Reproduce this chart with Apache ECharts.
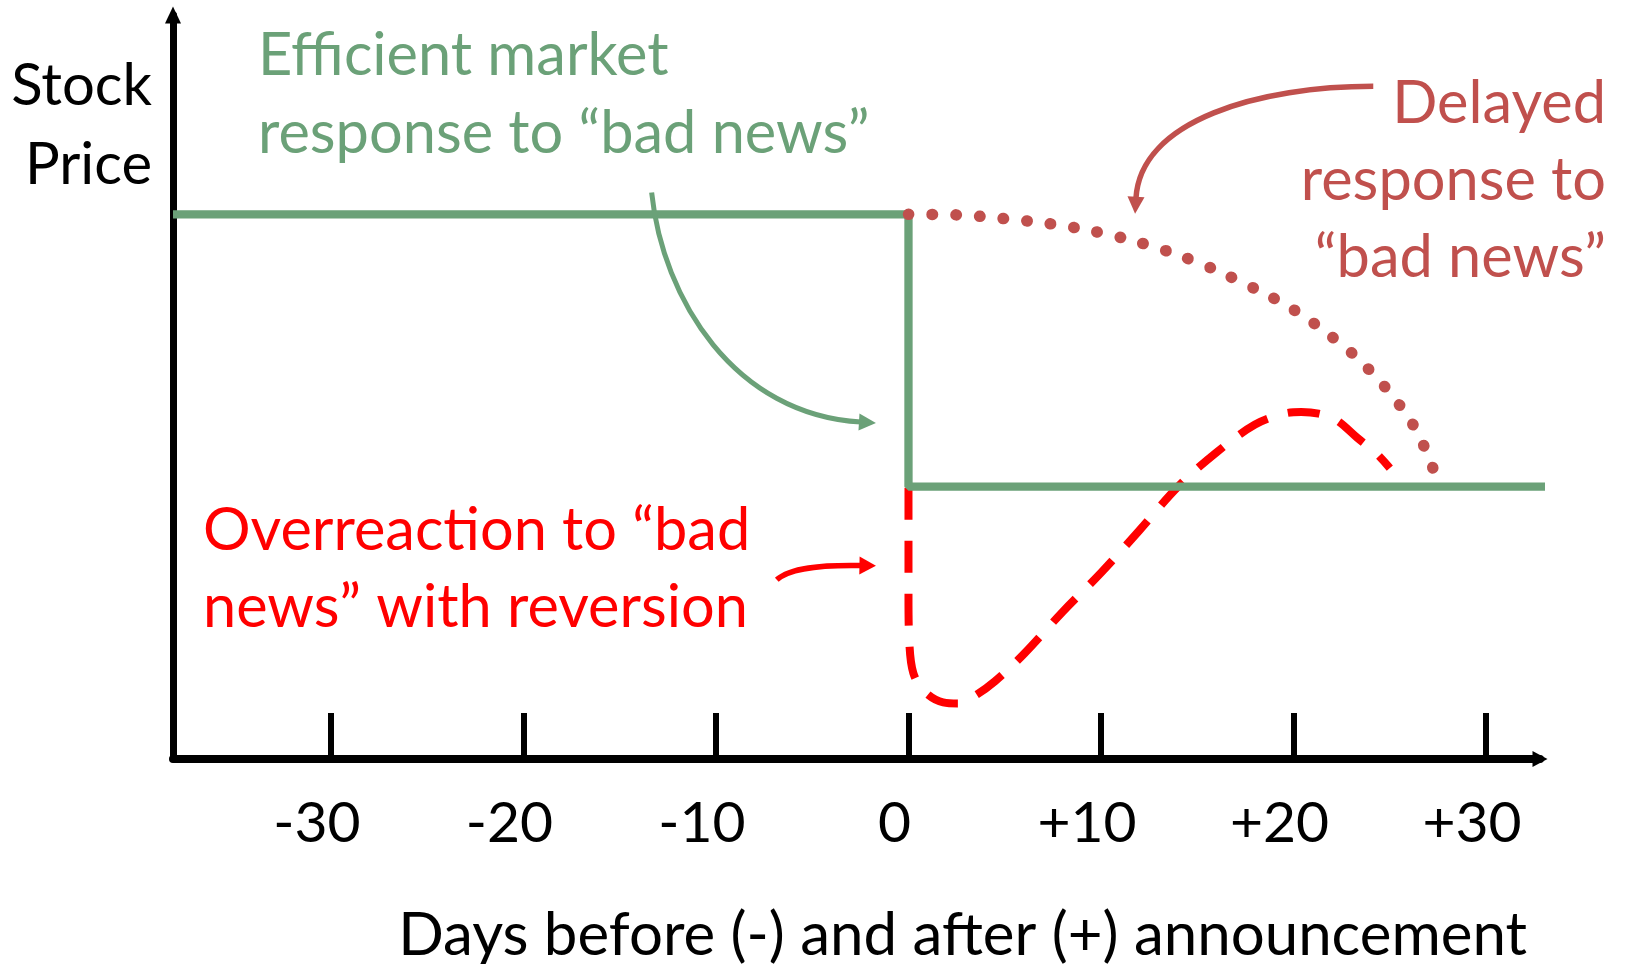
<!DOCTYPE html>
<html>
<head>
<meta charset="utf-8">
<title>Stock price response to bad news</title>
<script src="https://cdn.jsdelivr.net/npm/echarts@6/dist/echarts.min.js"></script>
<style>
html, body { margin: 0; padding: 0; background: #fff; }
#chart { width: 1625px; height: 964px; }
</style>
</head>
<body>
<div id="chart"></div>
<script>
// x = days relative to the announcement, y = price (level before news = 100)
var tickDays = [-30, -20, -10, 0, 10, 20, 30];

var efficientDays  = [-38.2, 0, 0, 33.2];
var efficientPrice = [100, 100, 50, 50];

var delayedDays  = [0, 2.5, 5, 7.5, 10, 12.5, 15, 17.5, 20, 22.5, 24, 25.5, 26.5, 27.4];
var delayedPrice = [100, 99.9, 99.2, 98.2, 96.6, 94.3, 91.2, 87.2, 82.5, 76.1, 71.2, 65.0, 59.5, 51.9];

var overDays  = [0, 0, 0, 0.05, 0.25, 0.8, 1.8, 2.6, 3.4, 4.5, 6, 8, 10, 12, 14, 16, 18, 19.5, 20.4, 21.3, 22.2, 23.3, 24.3, 25];
var overPrice = [49.8, 40, 30, 21, 15.8, 12.5, 10.4, 10.2, 11.5, 14.3, 19.3, 27, 34.2, 42, 50, 56.3, 61.4, 63.4, 63.7, 63.4, 62.3, 59.0, 56.1, 53.4];

// annotation arrows: start, control 1, control 2, tip  (in [day, price])
var arrowEfficient = [[-13.34, 104.0], [-12.76, 84.3], [-9.02, 63.2], [-1.69, 61.7]];
var arrowDelayed   = [[24.14, 123.5], [18.27, 123.5], [12.03, 117.4], [11.77, 100.1]];
var arrowOver      = [[-6.84, 32.9], [-6.16, 35.1], [-4.6, 35.65], [-1.69, 35.46]];

var GREEN = '#6ba178', DARKRED = '#c0504d', RED = '#ff0000';
var FONT = 'Lato, "Open Sans", sans-serif';
var FS = 59.5;

function pairs(xs, ys) {
  return xs.map(function (x, i) { return [x, ys[i]]; });
}

var chart = echarts.init(document.getElementById('chart'));

var option = {
  animation: false,
  backgroundColor: '#fff',
  grid: { left: 173, right: 85, top: 15, bottom: 205, containLabel: false },
  xAxis: {
    type: 'value',
    min: -38.2,
    max: 32.8,
    axisLine: {
      onZero: false,
      symbol: ['none', 'triangle'],
      symbolSize: [16, 15],
      lineStyle: { color: '#000', width: 8 }
    },
    axisTick: {
      customValues: tickDays,
      inside: true,
      length: 46,
      lineStyle: { color: '#000', width: 6 }
    },
    axisLabel: {
      customValues: tickDays,
      margin: 36,
      padding: [0, 28, 0, 0],
      color: '#000',
      fontFamily: FONT,
      fontSize: 57,
      formatter: function (v) { return v > 0 ? '+' + v : String(v); }
    },
    splitLine: { show: false }
  },
  yAxis: {
    type: 'value',
    min: 0,
    max: 136.6,
    axisLine: {
      show: true,
      onZero: false,
      symbol: ['none', 'triangle'],
      symbolSize: [16, 17],
      lineStyle: { color: '#000', width: 7 }
    },
    axisTick: { show: false },
    axisLabel: { show: false },
    splitLine: { show: false }
  },
  series: [
    {
      name: 'Overreaction with reversion',
      type: 'line',
      data: pairs(overDays, overPrice),
      showSymbol: false,
      smooth: 0.35,
      clip: false,
      lineStyle: { color: RED, width: 8, type: [32, 21] }
    },
    {
      name: 'Efficient market response',
      type: 'line',
      data: pairs(efficientDays, efficientPrice),
      showSymbol: false,
      clip: false,
      lineStyle: { color: GREEN, width: 8.3 }
    },
    {
      name: 'Delayed response',
      type: 'line',
      data: pairs(delayedDays, delayedPrice),
      showSymbol: false,
      smooth: 0.35,
      clip: false,
      lineStyle: { color: DARKRED, width: 11.5, type: [0.5, 23.2], cap: 'round' }
    }
  ]
};

chart.setOption(option);

function arrow(pts, color, width, headLen, headW) {
  var p = pts.map(function (d) { return chart.convertToPixel({ gridIndex: 0 }, d); });
  var tip = p[3], c2 = p[2];
  var dx = tip[0] - c2[0], dy = tip[1] - c2[1];
  var len = Math.sqrt(dx * dx + dy * dy);
  var ux = dx / len, uy = dy / len;
  var bx = tip[0] - ux * headLen, by = tip[1] - uy * headLen;
  return [
    {
      type: 'bezierCurve', z: 10,
      shape: {
        x1: p[0][0], y1: p[0][1],
        cpx1: p[1][0], cpy1: p[1][1],
        cpx2: p[2][0], cpy2: p[2][1],
        x2: bx + ux * 2, y2: by + uy * 2
      },
      style: { stroke: color, lineWidth: width, fill: null }
    },
    {
      type: 'polygon', z: 10,
      shape: { points: [tip, [bx - uy * headW / 2, by + ux * headW / 2], [bx + uy * headW / 2, by - ux * headW / 2]] },
      style: { fill: color }
    }
  ];
}

function label(text, x, y, align, color, lh, size) {
  return {
    type: 'text', x: x, y: y, z: 20,
    style: {
      text: text, fill: color, font: (size || FS) + 'px ' + FONT,
      align: align, verticalAlign: 'middle', lineHeight: lh
    }
  };
}

var graphics = []
  .concat(arrow(arrowEfficient, GREEN, 5, 17, 17))
  .concat(arrow(arrowDelayed, DARKRED, 5.5, 17, 17))
  .concat(arrow(arrowOver, RED, 5.5, 16.5, 18))
  .concat([
    label('Stock\nPrice', 152, 126, 'right', '#000', 79.5, 58),
    label('Efficient market\nresponse to \u201cbad news\u201d', 258, 95, 'left', GREEN, 77.7),
    label('Delayed\nresponse to\n\u201cbad news\u201d', 1606, 181, 'right', DARKRED, 77),
    label('Overreaction to \u201cbad\nnews\u201d with reversion', 203, 569.5, 'left', RED, 77),
    label('Days before (-) and after (+) announcement', 1527, 936, 'right', '#000', 60, 60)
  ]);

chart.setOption({ graphic: graphics });
</script>
</body>
</html>
